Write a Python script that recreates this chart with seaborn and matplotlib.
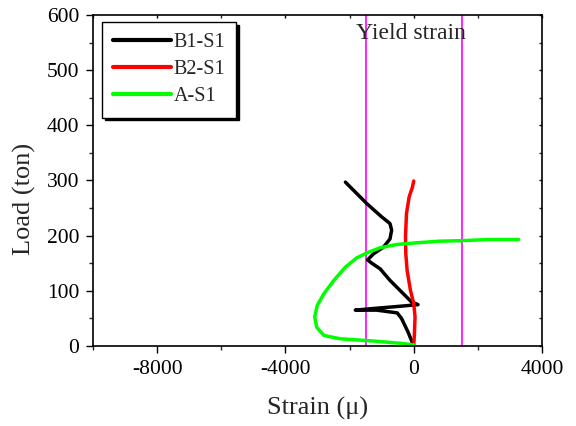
import numpy as np
import pandas as pd
import matplotlib
matplotlib.use("Agg")
import matplotlib.pyplot as plt
import seaborn as sns
from matplotlib.ticker import MultipleLocator
from matplotlib.lines import Line2D

# ---- data ----
b1_strain = [-21, -175, -381, -515, -1152, -1821, -1255, -432, 134, -72, -329, -741, -1050,
             -1307, -1441, -1255, -947, -741, -689, -741, -998, -1461, -1873, -2130]
b1_load = [3, 25, 50, 60, 65, 65, 68, 72, 75, 80, 95, 119, 140,
           150, 156, 167, 179, 194, 210, 222, 234, 258, 282, 297]

b2_strain = [0, 21, 41, 0, -103, -206, -247, -257, -226, -144, -41, 0]
b2_load = [0, 22, 53, 77, 101, 137, 167, 198, 240, 270, 288, 299]

a_strain = [0, -432, -1255, -2284, -2799, -3025, -3087, -3005, -2799, -2490, -2130, -1770,
            -1410, -1050, -535, 82, 803, 1523, 2346, 3272]
a_load = [2, 5, 9, 13, 19, 34, 53, 74, 95, 119, 143, 160,
          170, 178, 184, 187, 190, 191, 193, 193]

series_names = ["B1-S1", "B2-S1", "A-S1"]
series_colors = ["#000000", "#ff0000", "#00ff00"]
yield_strain = [-1500, 1500]

x_ticks = [-8000, -4000, 0, 4000]
y_ticks = [0, 100, 200, 300, 400, 500, 600]

frames = []
for name, xs, ys in zip(series_names, [b1_strain, b2_strain, a_strain], [b1_load, b2_load, a_load]):
    frames.append(pd.DataFrame({"strain": xs, "load": ys, "series": name}))
df = pd.concat(frames, ignore_index=True)

sns.set_style("ticks")
plt.rcParams["font.family"] = ["Liberation Serif", "DejaVu Serif"]
plt.rcParams["axes.unicode_minus"] = False

fig = plt.figure(figsize=(5.76, 4.26), dpi=100)
ax = fig.add_axes([0.1615, 0.1878, 0.941 - 0.1615, 0.9648 - 0.1878])

sns.lineplot(data=df, x="strain", y="load", hue="series", hue_order=series_names,
             palette=series_colors, sort=False, estimator=None, units="series",
             linewidth=2.5, ax=ax, legend=False,
             solid_joinstyle="round", solid_capstyle="round")

for ys in yield_strain:
    ax.axvline(ys, color="#ff00ff", lw=1.2, zorder=1)

ax.text(-100, 567, "Yield strain", ha="center", va="center", fontsize=17)

ax.set_xlim(-10000, 4000)
ax.set_ylim(0, 600)
ax.set_xticks(x_ticks)
ax.set_yticks(y_ticks)
ax.xaxis.set_minor_locator(MultipleLocator(2000))
ax.yaxis.set_minor_locator(MultipleLocator(50))
ax.tick_params(axis="both", which="major", direction="out", length=5, width=1,
               labelsize=15.5, pad=5, colors="black")
ax.tick_params(axis="both", which="minor", direction="out", length=3, width=1)
ax.tick_params(axis="both", which="both", top=True, right=True)
# ticks on the top and right are small and point inward
for t in ax.xaxis.get_major_ticks() + ax.xaxis.get_minor_ticks():
    t.tick2line.set_marker(matplotlib.lines.TICKDOWN)
    t.tick2line.set_markersize(2.5)
for t in ax.yaxis.get_major_ticks() + ax.yaxis.get_minor_ticks():
    t.tick2line.set_marker(matplotlib.lines.TICKLEFT)
    t.tick2line.set_markersize(2.5)
for s in ax.spines.values():
    s.set_linewidth(1.2)
    s.set_color("black")

ax.set_xlabel("Strain (\u03bc)", fontsize=19, labelpad=13)
ax.set_ylabel("Load (ton)", fontsize=19, labelpad=8)
ax.yaxis.label.set_y(0.444)

handles = [Line2D([], [], color=c, lw=3) for c in series_colors]
leg = ax.legend(handles, series_names, loc="upper left", bbox_to_anchor=(0.02, 0.979),
                fontsize=14.5, frameon=True, fancybox=False, edgecolor="black",
                framealpha=1, handlelength=2.9, handletextpad=0.1, labelspacing=0.4,
                borderpad=0.55, borderaxespad=0,
                shadow={"color": "black", "alpha": 1, "shade": 0.0})
leg.get_frame().set_linewidth(1.0)

fig.savefig("out.png", dpi=100)
